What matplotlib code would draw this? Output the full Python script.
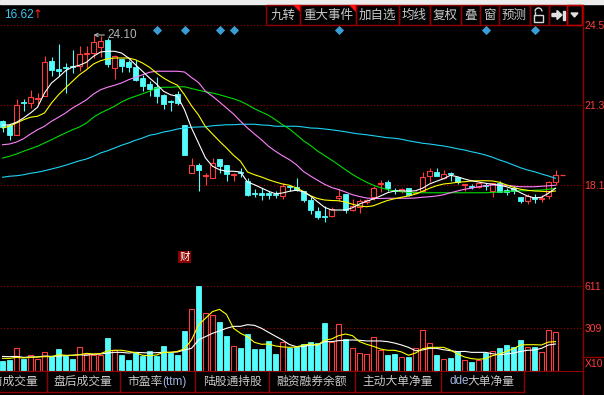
import matplotlib
matplotlib.use("Agg")
import matplotlib.pyplot as plt
import numpy as np
from matplotlib.patches import Rectangle, Polygon, Arc

plt.rcParams["font.family"] = ["Noto Sans CJK SC", "DejaVu Sans"]

# ---- values (80 daily bars) ----
opens = [20.65, 20.49, 20.11, 21.42, 21.37, 21.56, 21.67, 23.07, 22.73, 22.82,
         22.86, 22.85, 23.36, 23.38, 23.63, 23.91, 22.78, 23.14, 23.01, 22.81,
         22.38, 22.14, 22.02, 21.69, 21.46, 21.74, 20.49, 18.58, 18.91, 18.46,
         18.39, 19.14, 18.90, 18.50, 18.63, 18.27, 17.79, 17.79, 17.77, 17.75,
         17.66, 18.07, 18.03, 17.87, 17.50, 17.07, 16.86, 16.86, 17.58, 17.74,
         17.10, 17.23, 17.42, 17.61, 18.14, 18.21, 17.90, 17.87, 17.97, 17.80,
         17.87, 18.46, 18.61, 18.37, 18.57, 18.43, 18.09, 18.08, 18.03, 18.10,
         17.86, 18.17, 17.90, 18.00, 17.61, 17.46, 17.63, 17.55, 17.66, 18.23]
closes = [20.41, 20.11, 21.29, 21.38, 21.61, 21.58, 23.02, 22.70, 22.67, 22.78,
          22.82, 23.34, 23.40, 23.81, 23.87, 22.94, 23.25, 22.87, 22.82, 22.29,
          22.05, 21.94, 21.65, 21.34, 21.42, 21.38, 19.31, 18.89, 18.71, 18.50,
          18.97, 18.87, 18.53, 18.54, 18.57, 17.70, 17.74, 17.69, 17.71, 17.72,
          18.06, 18.03, 17.90, 17.50, 17.10, 16.83, 16.81, 17.13, 17.66, 17.10,
          17.26, 17.46, 17.49, 17.97, 18.19, 17.99, 17.86, 17.93, 17.70, 17.82,
          18.41, 18.66, 18.47, 18.53, 18.53, 18.21, 18.13, 18.04, 18.17, 18.06,
          18.19, 17.83, 17.84, 17.87, 17.47, 17.66, 17.53, 17.60, 18.23, 18.50]
highs = [20.70, 20.55, 21.54, 21.54, 21.90, 21.78, 23.26, 23.21, 23.74, 22.98,
         23.50, 23.65, 23.66, 24.10, 24.05, 23.98, 23.31, 23.14, 23.09, 23.11,
         22.51, 22.25, 22.41, 21.74, 21.50, 21.85, 20.50, 19.18, 18.98, 18.57,
         19.19, 19.14, 18.90, 18.59, 18.77, 18.37, 17.93, 17.97, 17.86, 17.85,
         18.17, 18.10, 18.37, 17.87, 17.61, 17.21, 17.26, 17.21, 17.93, 17.74,
         17.53, 17.53, 17.53, 18.06, 18.30, 18.30, 17.99, 18.00, 17.99, 17.85,
         18.61, 18.77, 18.77, 18.70, 18.61, 18.43, 18.13, 18.14, 18.23, 18.20,
         18.19, 18.27, 17.97, 18.07, 17.61, 17.74, 17.74, 17.71, 18.27, 18.70]
lows = [20.23, 19.91, 20.10, 21.07, 21.18, 21.34, 21.67, 22.45, 22.45, 21.78,
        22.58, 22.65, 22.78, 23.20, 23.21, 22.81, 22.35, 22.61, 22.63, 22.27,
        21.87, 21.65, 21.38, 21.15, 21.07, 21.31, 19.30, 18.58, 17.85, 18.10,
        18.37, 18.57, 18.26, 18.27, 18.41, 17.66, 17.61, 17.50, 17.56, 17.60,
        17.54, 17.87, 17.86, 17.43, 16.94, 16.73, 16.62, 16.83, 17.46, 17.00,
        17.07, 16.99, 17.34, 17.50, 17.83, 17.86, 17.73, 17.77, 17.66, 17.74,
        17.83, 18.23, 18.47, 18.33, 18.26, 18.14, 17.86, 17.96, 17.99, 17.91,
        17.61, 17.83, 17.70, 17.74, 17.37, 17.33, 17.37, 17.42, 17.53, 18.10]

ma5 = [20.49, 20.51, 20.61, 20.78, 20.98, 21.21, 21.78, 22.18, 22.41, 22.67,
       22.82, 22.89, 23.01, 23.25, 23.42, 23.45, 23.45, 23.38, 23.18, 22.91,
       22.65, 22.38, 22.14, 21.85, 21.71, 21.65, 21.11, 20.38, 19.78, 19.18,
       18.85, 18.71, 18.65, 18.65, 18.62, 18.22, 18.11, 17.98, 17.85, 17.75,
       17.78, 17.85, 17.89, 17.83, 17.66, 17.43, 17.21, 17.10, 17.10, 17.10,
       17.19, 17.34, 17.45, 17.54, 17.66, 17.79, 17.86, 17.87, 17.85, 17.87,
       17.97, 18.14, 18.25, 18.35, 18.49, 18.43, 18.34, 18.27, 18.22, 18.17,
       18.13, 18.09, 18.03, 17.94, 17.79, 17.66, 17.58, 17.61, 17.77, 17.97]
ma10 = [20.38, 20.45, 20.58, 20.71, 20.81, 20.85, 20.98, 21.38, 21.71, 21.98,
        22.25, 22.51, 22.71, 22.94, 23.07, 23.15, 23.18, 23.18, 23.18, 23.11,
        22.98, 22.81, 22.58, 22.38, 22.22, 22.09, 21.71, 21.27, 20.90, 20.43,
        20.14, 19.85, 19.58, 19.29, 19.05, 18.62, 18.51, 18.42, 18.31, 18.22,
        18.14, 18.09, 17.98, 17.84, 17.67, 17.56, 17.50, 17.48, 17.47, 17.42,
        17.33, 17.26, 17.23, 17.27, 17.38, 17.48, 17.55, 17.61, 17.66, 17.74,
        17.85, 17.97, 18.07, 18.14, 18.17, 18.21, 18.23, 18.26, 18.27, 18.27,
        18.26, 18.21, 18.10, 18.01, 17.93, 17.89, 17.86, 17.85, 17.83, 17.86]
ma20 = [19.71, 19.74, 19.82, 19.95, 20.14, 20.31, 20.45, 20.65, 20.81, 20.98,
        21.18, 21.34, 21.51, 21.74, 21.91, 22.01, 22.09, 22.18, 22.31, 22.41,
        22.51, 22.61, 22.65, 22.65, 22.65, 22.65, 22.62, 22.40, 22.20, 21.85,
        21.65, 21.42, 21.18, 20.94, 20.65, 20.38, 20.14, 19.91, 19.65, 19.45,
        19.27, 19.11, 18.91, 18.64, 18.46, 18.29, 18.13, 18.00, 17.92, 17.82,
        17.71, 17.64, 17.58, 17.56, 17.56, 17.57, 17.57, 17.57, 17.57, 17.58,
        17.61, 17.63, 17.66, 17.71, 17.79, 17.86, 17.93, 17.97, 18.03, 18.07,
        18.10, 18.10, 18.09, 18.06, 18.03, 18.03, 18.03, 18.05, 18.07, 18.09]
ma30 = [19.18, 19.25, 19.34, 19.45, 19.55, 19.65, 19.78, 19.91, 20.05, 20.18,
        20.31, 20.42, 20.58, 20.81, 20.98, 21.11, 21.25, 21.42, 21.55, 21.65,
        21.75, 21.85, 21.98, 22.01, 22.01, 22.03, 22.03, 21.96, 21.89, 21.83,
        21.78, 21.71, 21.63, 21.55, 21.45, 21.31, 21.15, 21.02, 20.89, 20.71,
        20.51, 20.34, 20.11, 19.87, 19.68, 19.46, 19.28, 19.10, 18.91, 18.71,
        18.52, 18.36, 18.21, 18.09, 17.99, 17.92, 17.86, 17.83, 17.81, 17.79,
        17.79, 17.79, 17.79, 17.79, 17.79, 17.79, 17.79, 17.79, 17.79, 17.79,
        17.80, 17.82, 17.83, 17.86, 17.87, 17.87, 17.89, 17.90, 17.93, 17.97]
ma60 = [18.41, 18.45, 18.47, 18.51, 18.57, 18.61, 18.67, 18.74, 18.81, 18.89,
        18.98, 19.07, 19.14, 19.25, 19.38, 19.47, 19.58, 19.69, 19.78, 19.89,
        19.98, 20.09, 20.14, 20.22, 20.27, 20.34, 20.38, 20.41, 20.42, 20.43,
        20.47, 20.49, 20.51, 20.51, 20.53, 20.53, 20.53, 20.50, 20.49, 20.45,
        20.45, 20.45, 20.45, 20.42, 20.38, 20.37, 20.34, 20.31, 20.27, 20.23,
        20.18, 20.14, 20.11, 20.07, 20.03, 19.99, 19.97, 19.93, 19.87, 19.82,
        19.77, 19.74, 19.70, 19.66, 19.61, 19.55, 19.50, 19.43, 19.37, 19.30,
        19.21, 19.10, 19.01, 18.90, 18.79, 18.70, 18.63, 18.54, 18.46, 18.37]

volumes = [72, 81, 163, 88, 113, 86, 134, 106, 158, 106,
           86, 170, 122, 113, 117, 237, 149, 115, 79, 134,
           108, 144, 110, 180, 132, 115, 288, 444, 611, 415,
           403, 352, 252, 177, 165, 266, 158, 158, 216, 122,
           211, 168, 175, 194, 209, 201, 345, 206, 338, 228,
           163, 129, 120, 242, 153, 115, 122, 101, 101, 163,
           295, 201, 115, 86, 93, 137, 79, 65, 79, 129,
           144, 165, 187, 173, 223, 170, 173, 137, 295, 280]
vol_ma5 = [91, 91, 98, 94, 98, 101, 103, 103, 117, 113,
           113, 117, 127, 122, 125, 144, 149, 149, 141, 132,
           113, 110, 115, 134, 134, 141, 160, 223, 331, 379,
           427, 443, 407, 307, 271, 247, 206, 192, 194, 180,
           173, 170, 173, 187, 194, 187, 221, 230, 254, 266,
           254, 211, 192, 177, 158, 149, 149, 137, 113, 129,
           160, 170, 170, 170, 151, 122, 101, 89, 84, 89,
           110, 122, 141, 160, 187, 189, 189, 187, 208, 211]
vol_ma10 = [105, 103, 105, 98, 101, 101, 108, 105, 108, 110,
            113, 117, 113, 120, 122, 129, 134, 134, 129, 134,
            132, 129, 132, 134, 134, 137, 151, 163, 223, 247,
            271, 288, 307, 321, 321, 333, 328, 307, 278, 250,
            223, 190, 175, 175, 187, 187, 211, 211, 218, 221,
            223, 221, 216, 216, 216, 211, 201, 187, 170, 146,
            151, 163, 163, 153, 146, 139, 141, 134, 134, 134,
            124, 117, 122, 129, 141, 149, 151, 163, 187, 194]

event_days = [22, 26, 31, 33, 48, 69, 76]   # blue diamonds
report_day = 26                               # "财" marker
price_ticks = [18.1, 21.3, 24.5]
vol_ticks = [309, 611]

toolbar = ["九转", "重大事件", "加自选", "均线", "复权", "叠", "窗", "预测"]
tabs = ["盘前成交量", "盘后成交量", "市盈率", "陆股通持股", "融资融券余额", "主动大单净量", "大单净量"]

# ---- style ----
RED = "#ff3c3c"
CYAN = "#54fcfc"
GRID = "#a00000"
FRAME = "#900000"
LABEL = "#c8c8c8"
NUM = "Liberation Sans"

W, H = 604, 395
fig = plt.figure(figsize=(W / 100, H / 100), dpi=100, facecolor="black")


def box(top, bottom, left=0, right=583):
    return [left / W, 1 - bottom / H, (right - left) / W, (bottom - top) / H]


ax = fig.add_axes(box(5, 265))
vax = fig.add_axes(box(265, 371))

o, c, hi, lo = map(np.array, (opens, closes, highs, lows))
x = np.arange(len(c))
up = c >= o
body = np.maximum(np.abs(c - o), 0.02)

# candles
ax.vlines(x[up], lo[up], hi[up], color=RED, lw=0.8, zorder=2)
ax.vlines(x[~up], lo[~up], hi[~up], color=CYAN, lw=0.8, zorder=2)
ax.bar(x[up], body[up], bottom=o[up], width=0.68, facecolor="black",
       edgecolor=RED, linewidth=0.8, zorder=3)
ax.bar(x[~up], body[~up], bottom=c[~up], width=0.7, facecolor=CYAN,
       edgecolor=CYAN, linewidth=0.6, zorder=3)

for vals, col in [(ma60, "#1ed2f5"), (ma30, "#00dc00"), (ma20, "#ff80ff"),
                  (ma10, "#ffff00"), (ma5, "#ffffff")]:
    ax.plot(x, vals, color=col, lw=0.8, zorder=4)

# last-price dash
ax.hlines(c[-1], x[-1] + 0.65, x[-1] + 1.35, color=RED, lw=0.9, zorder=4)

# highest price marker
top_i = int(np.argmax(hi))
ax.annotate(f"{hi[top_i]:.2f}", xy=(top_i, hi[top_i]), xytext=(top_i + 1.95, hi[top_i]),
            color="#b4b4b4", fontsize=8.5, family=NUM, va="center", ha="left",
            arrowprops=dict(arrowstyle="->", color="#b4b4b4", lw=0.8,
                            shrinkA=0, shrinkB=0, mutation_scale=6))

# event diamonds and report marker
ax.scatter(event_days, np.full(len(event_days), 0.902), transform=ax.get_xaxis_transform(),
           marker="D", s=22, color="#3a9ed4", linewidths=0, zorder=5, clip_on=False)
ax.text(report_day, 0.031, "财", transform=ax.get_xaxis_transform(), color="white",
        fontsize=7.5, ha="center", va="center",
        bbox=dict(boxstyle="square,pad=0.12", fc="#8a0000", ec="none"))

ax.set_xlim(-2.5 / 7, 580.5 / 7)
ax.set_ylim(14.9, 25.3)

# volume
v = np.array(volumes)
vax.bar(x[up], v[up], width=0.68, facecolor="black", edgecolor=RED, linewidth=0.8)
vax.bar(x[~up], v[~up], width=0.7, facecolor=CYAN, edgecolor=CYAN, linewidth=0.6)
vax.plot(x, vol_ma10, color="white", lw=0.8)
vax.plot(x, vol_ma5, color="#ffff00", lw=0.8)
vax.set_xlim(-2.5 / 7, 580.5 / 7)
vax.set_ylim(0, 762)

for a, ticks, fmt in [(ax, price_ticks, "{:.1f}"), (vax, vol_ticks, "{:d}")]:
    a.set_facecolor("black")
    a.set_xticks([])
    a.yaxis.tick_right()
    a.set_yticks(ticks)
    a.set_yticklabels([fmt.format(t) for t in ticks], family=NUM)
    a.tick_params(axis="y", length=0, pad=1.0, labelcolor=RED, labelsize=7.5)
    a.yaxis.grid(True, color=GRID, linestyle=(0, (1, 2)), linewidth=0.8)
    a.set_axisbelow(True)
    for s in ("top", "left"):
        a.spines[s].set_visible(False)
    a.spines["right"].set_color(FRAME)
    a.spines["bottom"].set_color(FRAME)

# ---- window chrome, in pixel coordinates ----
ov = fig.add_axes([0, 0, 1, 1], zorder=10)
ov.set_xlim(0, W)
ov.set_ylim(H, 0)
ov.axis("off")
ov.patch.set_visible(False)

ov.add_patch(Rectangle((0, 0), W, 4, color="#ececec"))
ov.plot([583, 583], [5, H], color=FRAME, lw=1)

ov.text(4, 15, f"{lo.min():.2f}", color="#3ec6f2", fontsize=8.5, family=NUM, va="center")
ov.text(33, 15, "↑", color="#ff2020", fontsize=8.5, family=["DejaVu Sans"], va="center")

edges = [266, 300, 356, 399, 430, 461, 480, 499, 530, 549, 567, 582]
for i, (l, r) in enumerate(zip(edges[:-1], edges[1:])):
    ov.add_patch(Rectangle((l, 5), r - l, 20, fill=False, ec=FRAME, lw=1))
    if i < len(toolbar):
        ov.text((l + r) / 2, 15.5, toolbar[i], color=LABEL, fontsize=9, ha="center", va="center")
    if i < 2:
        ov.add_patch(Polygon([[r - 6, 5], [r, 5], [r, 11]], color="#ff1010"))
ov.add_patch(Rectangle((567, 5), 15, 20, fill=False, ec="#c00000", lw=1))
# open padlock
ov.add_patch(Rectangle((534, 14.5), 9, 7, fill=False, ec="#d8d8d8", lw=1))
ov.add_patch(Arc((538.5, 11.5), 7, 7, theta1=180, theta2=360, ec="#d8d8d8", lw=1))
ov.plot([535, 535], [11.5, 14.5], color="#d8d8d8", lw=1)
# jump-to-end arrow
ov.add_patch(Polygon([[552, 13.5], [557, 13.5], [557, 10.5], [562, 15], [557, 19.5],
                      [557, 16.5], [552, 16.5]], color="#e0e0e0"))
ov.add_patch(Rectangle((563, 10.5), 2, 9, color="#e0e0e0"))
ov.add_patch(Polygon([[571, 13], [578, 13], [574.5, 17]], color="#e0e0e0"))

# volume unit box
ov.plot([583, W], [357, 357], color=FRAME, lw=1)
ov.text(584.5, 364, "X10", color=RED, fontsize=7.5, family=NUM, va="center")

# bottom tabs
seps = [46.7, 120, 195, 269.3, 355, 441, 524]
ov.plot([0, 524], [392, 392], color=FRAME, lw=1)
for sx in seps:
    ov.plot([sx, sx], [371, 392], color=FRAME, lw=1)
ov.text(38, 381.5, tabs[0], color=LABEL, fontsize=8.5, ha="right", va="center", clip_on=True)
ov.text(83, 381.5, tabs[1], color=LABEL, fontsize=8.5, ha="center", va="center")
ov.text(127, 381.5, tabs[2], color=LABEL, fontsize=8.5, ha="left", va="center")
ov.text(162, 381.5, "(ttm)", color="#9fb4dc", fontsize=8.5, family=NUM, ha="left", va="center")
ov.text(232, 381.5, tabs[3], color=LABEL, fontsize=8.5, ha="center", va="center")
ov.text(312, 381.5, tabs[4], color=LABEL, fontsize=8.5, ha="center", va="center")
ov.text(398, 381.5, tabs[5], color=LABEL, fontsize=8.5, ha="center", va="center")
ov.text(449, 381.5, "dde", color="#9fb4dc", fontsize=8.5, family=NUM, ha="left", va="center")
ov.text(467, 381.5, tabs[6], color=LABEL, fontsize=8.5, ha="left", va="center")

fig.savefig("out.png", dpi=100, facecolor="black")
